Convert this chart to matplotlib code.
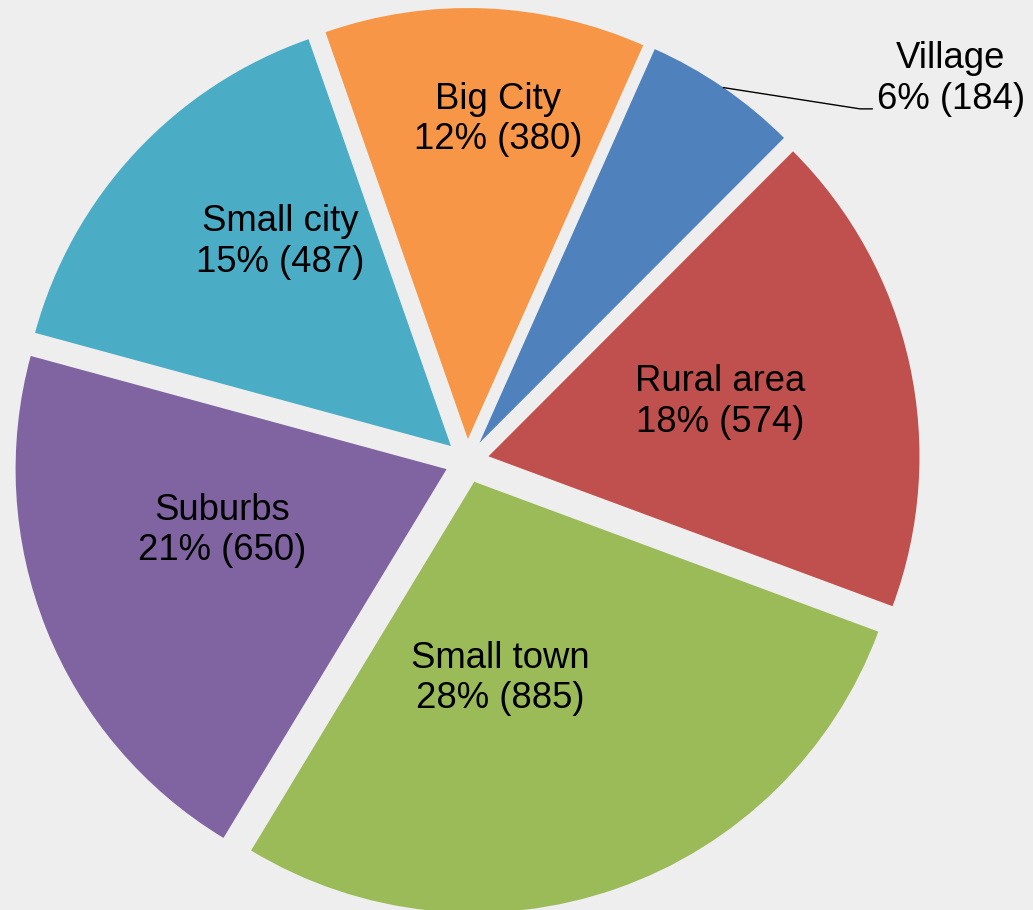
import numpy as np
import matplotlib.pyplot as plt

# Data
categories = ['Village', 'Rural area', 'Small town', 'Suburbs', 'Small city', 'Big City']
counts = [184, 574, 885, 650, 487, 380]
colors = ['#4F81BD', '#C0504D', '#9BBB59', '#8064A2', '#4BACC6', '#F79646']

# Layout: label centres in data units (pie radius = 1)
label_xy = [(1.123, 0.886), (0.587, 0.137), (0.077, -0.505),
            (-0.568, -0.161), (-0.434, 0.508), (0.072, 0.793)]
elbow_xy = [(0.912, 0.817), (0.940, 0.817)]

plt.rcParams['font.family'] = ['Liberation Sans', 'DejaVu Sans']

fig = plt.figure(figsize=(10.33, 9.10), dpi=100, facecolor='#EEEEEE')
ax = fig.add_axes([0, 0, 1, 1])
ax.set_facecolor('#EEEEEE')

explode = [0.051] * len(counts)
wedges, _ = ax.pie(counts, colors=colors, startangle=66, counterclock=False,
                   explode=explode, radius=1.0,
                   wedgeprops=dict(linewidth=0))

total = sum(counts)
for i, (cat, n) in enumerate(zip(categories, counts)):
    pct = int(round(100.0 * n / total))
    x, y = label_xy[i]
    ax.text(x, y, f"{cat}\n{pct}% ({n})", ha='center', va='center',
            fontsize=26.3, linespacing=1.2, color='black')

# Leader line for the small Village slice
w = wedges[0]
mid = np.deg2rad((w.theta1 + w.theta2) / 2)
cx, cy = w.center
start = (cx + w.r * np.cos(mid), cy + w.r * np.sin(mid))
xs = [start[0]] + [p[0] for p in elbow_xy]
ys = [start[1]] + [p[1] for p in elbow_xy]
ax.plot(xs, ys, color='black', linewidth=1)

ax.set_xlim(-467 / 431, (1033 - 467) / 431)
ax.set_ylim((461 - 910) / 431, 461 / 431)
ax.set_aspect('auto')
ax.axis('off')

plt.savefig('out.png', dpi=100, facecolor=fig.get_facecolor())
